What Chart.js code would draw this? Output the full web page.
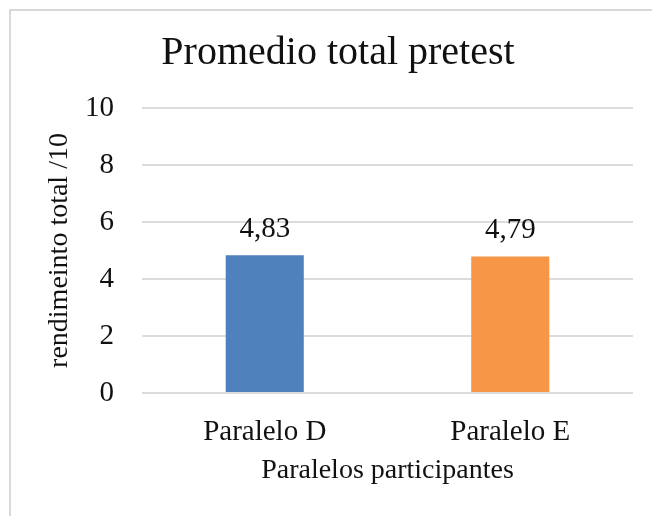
<!DOCTYPE html>
<html>
<head>
<meta charset="utf-8">
<script src="https://cdn.jsdelivr.net/npm/chart.js@4"></script>
<style>
    html, body { margin: 0; padding: 0; background: #fff; }
    #wrap { width: 652px; height: 516px; position: relative; }
</style>
</head>
<body>
<div id="wrap"><canvas id="canvas" width="652" height="516"></canvas></div>
<script>
// Chart data
const categories = ['Paralelo D', 'Paralelo E'];
const promedios = [4.83, 4.79];
const barColors = ['#4F81BD', '#F79646'];
const yTicks = [0, 2, 4, 6, 8, 10];

const FONT = "'Liberation Serif', 'Times New Roman', serif";
const TEXT = '#111111';

/**
 * Outer frame (light grey left/top edge) + white background
 */
const framePlugin = {
    id: 'frame',
    beforeDraw(chart) {
        const ctx = chart.ctx;
        ctx.save();
        ctx.fillStyle = '#ffffff';
        ctx.fillRect(0, 0, chart.width, chart.height);
        ctx.strokeStyle = '#d9d9d9';
        ctx.lineWidth = 2;
        ctx.beginPath();
        ctx.moveTo(10, chart.height);
        ctx.lineTo(10, 10);
        ctx.lineTo(chart.width, 10);
        ctx.stroke();
        ctx.restore();
    }
};

/**
 * Value labels above each bar, comma decimal like the original
 */
const valueLabels = {
    id: 'valueLabels',
    afterDatasetsDraw(chart) {
        const ctx = chart.ctx;
        const meta = chart.getDatasetMeta(0);
        ctx.save();
        ctx.font = '29px ' + FONT;
        ctx.fillStyle = TEXT;
        ctx.textAlign = 'center';
        ctx.textBaseline = 'alphabetic';
        meta.data.forEach((bar, i) => {
            const txt = promedios[i].toFixed(2).replace('.', ',');
            ctx.fillText(txt, bar.x, bar.y - 18);
        });
        ctx.restore();
    }
};

new Chart(document.getElementById('canvas'), {
    type: 'bar',
    data: {
        labels: categories,
        datasets: [{
            label: 'Promedio',
            data: promedios,
            backgroundColor: barColors,
            borderWidth: 0,
            barPercentage: 0.318,
            categoryPercentage: 1
        }]
    },
    options: {
        responsive: false,
        animation: false,
        layout: { padding: { left: 43, right: 19, top: 29, bottom: 0 } },
        plugins: {
            legend: { display: false },
            tooltip: { enabled: false },
            title: {
                display: true,
                text: 'Promedio total pretest',
                color: TEXT,
                font: { family: FONT, size: 40, weight: 'normal' },
                padding: { top: 0, bottom: 31 }
            }
        },
        scales: {
            x: {
                grid: { display: false },
                border: { display: false },
                ticks: {
                    color: TEXT,
                    font: { family: FONT, size: 29 },
                    padding: 14
                },
                title: {
                    display: true,
                    text: 'Paralelos participantes',
                    color: TEXT,
                    font: { family: FONT, size: 28 },
                    padding: { top: 0, bottom: 29 }
                },
                afterFit(scale) { scale.height = 123; }
            },
            y: {
                min: 0,
                max: 10,
                afterBuildTicks(scale) {
                    scale.ticks = yTicks.map(v => ({ value: v }));
                },
                grid: { color: '#dcdcdc', lineWidth: 2, drawTicks: false },
                border: { display: false },
                ticks: {
                    color: TEXT,
                    font: { family: FONT, size: 29 },
                    padding: 28
                },
                title: {
                    display: true,
                    text: 'rendimeinto total /10',
                    color: TEXT,
                    font: { family: FONT, size: 28 },
                    padding: 0
                },
                afterFit(scale) { scale.width = 99; }
            }
        }
    },
    plugins: [framePlugin, valueLabels]
});
</script>
</body>
</html>
